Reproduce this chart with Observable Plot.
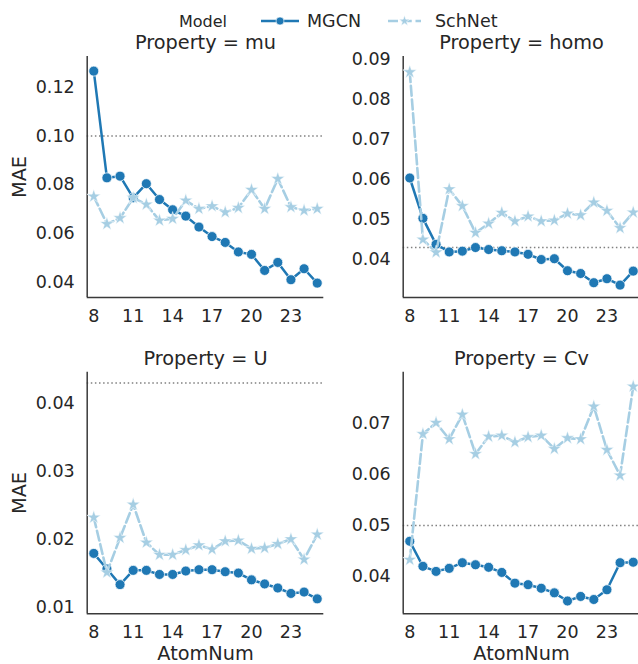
<!DOCTYPE html>
<html><head><meta charset="utf-8">
<script src="https://cdn.jsdelivr.net/npm/d3@7"></script>
<script src="https://cdn.jsdelivr.net/npm/@observablehq/plot@0.6"></script>
<style>
body{margin:0;background:#fff;}
#root{position:relative;width:638px;height:664px;overflow:hidden;font-family:"DejaVu Sans";color:#262626;}
#root > svg, #root > figure{position:absolute;margin:0;}
</style></head><body><div id="root"></div>
<script>
// ---- data ----
const atomNum = [8,9,10,11,12,13,14,15,16,17,18,19,20,21,22,23,24,25];
const models = ["MGCN","SchNet"];
const properties = ["mu","homo","U","Cv"];
const baselines = [0.10, 0.043, 0.043, 0.05];
const xTicks = [8,11,14,17,20,23];

const muMGCN   = [0.1266,0.0828,0.0835,0.0746,0.0804,0.0739,0.0697,0.0671,0.0626,0.0587,0.0563,0.0524,0.0514,0.0448,0.0481,0.0410,0.0455,0.0396];
const muSchNet = [0.0752,0.0639,0.0663,0.0746,0.0719,0.0653,0.0660,0.0735,0.0701,0.0712,0.0687,0.0705,0.0779,0.0701,0.0824,0.0708,0.0694,0.0701];
const homoMGCN   = [0.0604,0.0503,0.0438,0.0419,0.0421,0.0430,0.0425,0.0422,0.0419,0.0413,0.0400,0.0402,0.0372,0.0365,0.0342,0.0352,0.0336,0.0371];
const homoSchNet = [0.0869,0.0450,0.0418,0.0576,0.0534,0.0467,0.0490,0.0517,0.0496,0.0508,0.0496,0.0498,0.0515,0.0511,0.0543,0.0522,0.0479,0.0518];
const uMGCN   = [0.0179,0.0156,0.0133,0.0154,0.0154,0.0148,0.0148,0.0153,0.0155,0.0155,0.0152,0.0150,0.0140,0.0134,0.0128,0.0120,0.0122,0.0112];
const uSchNet = [0.0232,0.0151,0.0202,0.0251,0.0195,0.0177,0.0177,0.0184,0.0191,0.0185,0.0197,0.0198,0.0186,0.0187,0.0193,0.0200,0.0170,0.0207];
const cvMGCN   = [0.0469,0.0420,0.0410,0.0416,0.0427,0.0423,0.0418,0.0408,0.0387,0.0384,0.0377,0.0368,0.0352,0.0361,0.0355,0.0374,0.0427,0.0428];
const cvSchNet = [0.0433,0.0679,0.0701,0.0669,0.0717,0.0640,0.0674,0.0676,0.0663,0.0673,0.0676,0.0650,0.0671,0.0669,0.0733,0.0648,0.0598,0.0772];

const muTicks = [0.04,0.06,0.08,0.10,0.12];
const homoTicks = [0.04,0.05,0.06,0.07,0.08,0.09];
const uTicks = [0.01,0.02,0.03,0.04];
const cvTicks = [0.04,0.05,0.06,0.07];

// ---- style / layout ----
const COLORS = {MGCN:"#1f78b4", SchNet:"#a6cee3"};
const TEXT = "#262626";
const FONT = "DejaVu Sans";
const root = document.getElementById("root");

const panels = [
  {p:"mu",   m:muMGCN,   s:muSchNet,   ticks:muTicks,   dom:[0.0337,0.1326], col:0,row:0},
  {p:"homo", m:homoMGCN, s:homoSchNet, ticks:homoTicks, dom:[0.0305,0.0908], col:1,row:0},
  {p:"U",    m:uMGCN,    s:uSchNet,    ticks:uTicks,    dom:[0.0090,0.0446], col:0,row:1},
  {p:"Cv",   m:cvMGCN,   s:cvSchNet,   ticks:cvTicks,   dom:[0.0327,0.0800], col:1,row:1},
];

panels.forEach((P, i) => {
  const C = P.col===0 ? {left:0,width:340,ml:86.7,mr:16.7} : {left:340,width:300,ml:62.7,mr:0.7};
  const R = P.row===0 ? {top:26,height:304,mt:30,mb:33,tdy:-13.5} : {top:330,height:334,mt:41.7,mb:50.7,tdy:-13};
  const mg = atomNum.map((a,k)=>({AtomNum:a, MAE:P.m[k], Model:models[0]}));
  const sc = atomNum.map((a,k)=>({AtomNum:a, MAE:P.s[k], Model:models[1]}));
  const ref = baselines[properties.indexOf(P.p)];
  const marks = [
    Plot.ruleY([ref], {stroke:"#808080", strokeWidth:1.5, strokeDasharray:"1.5,2.6"}),
    Plot.ruleX([7.5], {stroke:"#3a3a3a", strokeWidth:1.5}),
    Plot.ruleY([P.dom[0]], {stroke:"#3a3a3a", strokeWidth:1.5}),
    Plot.line(mg, {x:"AtomNum", y:"MAE", stroke:COLORS.MGCN, strokeWidth:2.5}),
    Plot.dot(mg, {x:"AtomNum", y:"MAE", r:5, fill:COLORS.MGCN, stroke:"white", strokeWidth:0.75}),
    Plot.line(sc, {x:"AtomNum", y:"MAE", stroke:COLORS.SchNet, strokeWidth:2.6, strokeDasharray:"10,3.75"}),
    Plot.dot(sc, {x:"AtomNum", y:"MAE", symbol:"star", r:4.3, fill:COLORS.SchNet, stroke:"white", strokeWidth:0.5}),
    Plot.text([`Property = ${P.p}`], {frameAnchor:"top", lineAnchor:"middle", dy:R.tdy, fontSize:19.3, fill:TEXT}),
  ];
  if (P.col===0) marks.push(Plot.text(["MAE"], {frameAnchor:"left", textAnchor:"middle", lineAnchor:"middle", dx:-67.7, rotate:-90, fontSize:19.3, fill:TEXT}));
  if (P.row===1) marks.push(Plot.text(["AtomNum"], {frameAnchor:"bottom", lineAnchor:"middle", dy:40, fontSize:19.3, fill:TEXT}));
  const svg = Plot.plot({
    width:C.width, height:R.height,
    marginLeft:C.ml, marginRight:C.mr, marginTop:R.mt, marginBottom:R.mb,
    style:{fontFamily:FONT, fontSize:"17.5px", color:TEXT, background:"transparent", overflow:"visible"},
    x:{domain:[7.5,25.5], ticks:xTicks, tickSize:0, tickPadding:12, tickFormat:d=>String(d), label:null},
    y:{domain:P.dom, ticks:P.ticks, tickSize:0, tickPadding:12.5, tickFormat:d3.format(".2f"), label:null},
    marks
  });
  svg.style.left = C.left+"px";
  svg.style.top = R.top+"px";
  root.appendChild(svg);
});

// ---- legend ----
const lg = d3.create("svg").attr("width",638).attr("height",40)
  .style("position","absolute").style("left","0px").style("top","0px")
  .style("font-family",FONT);
const ly = 21;
lg.append("text").attr("x",179).attr("y",ly).attr("dy","0.35em").attr("font-size",16).attr("fill",TEXT).text("Model");
const entries = [
  {name:models[0], x0:261, x1:299, tx:307, sym:d3.symbolCircle, size:Math.PI*16, dash:null},
  {name:models[1], x0:388, x1:421, tx:435, sym:d3.symbolStar, size:Math.PI*12, dash:"10,3.75"},
];
entries.forEach(e=>{
  lg.append("line").attr("x1",e.x0).attr("x2",e.x1).attr("y1",ly).attr("y2",ly)
    .attr("stroke",COLORS[e.name]).attr("stroke-width",2.5).attr("stroke-dasharray",e.dash);
  lg.append("path").attr("d",d3.symbol(e.sym,e.size)()).attr("transform",`translate(${(e.x0+e.x1)/2},${ly})`)
    .attr("fill",COLORS[e.name]).attr("stroke","white").attr("stroke-width",0.6);
  lg.append("text").attr("x",e.tx).attr("y",ly).attr("dy","0.35em").attr("font-size",17.5).attr("fill",TEXT).text(e.name);
});
root.appendChild(lg.node());
</script></body></html>
